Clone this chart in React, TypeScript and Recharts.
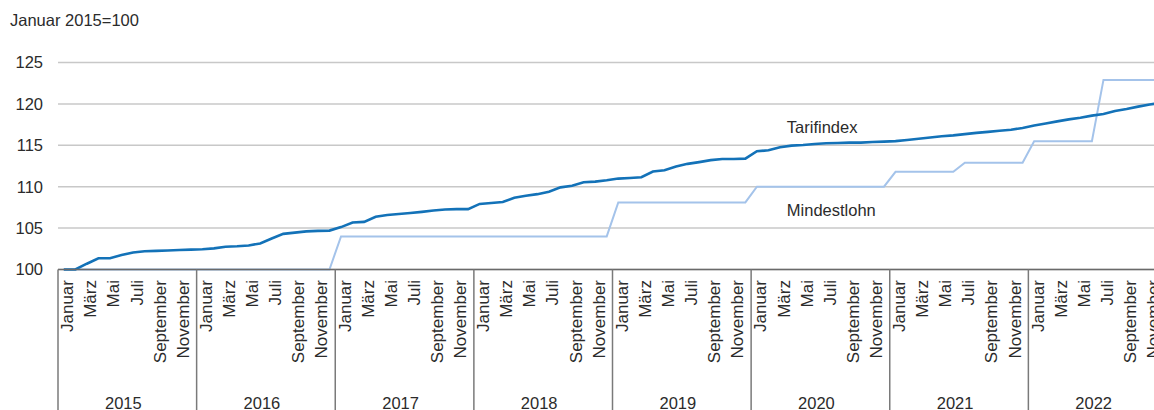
import React from "react";
import { LineChart, Line, XAxis, YAxis, CartesianGrid, ReferenceDot } from "recharts";

const title = "Januar 2015=100";
const years = [2015, 2016, 2017, 2018, 2019, 2020, 2021, 2022];
const monthLabels = ["Januar", "März", "Mai", "Juli", "September", "November"];
const yTicks = [100, 105, 110, 115, 120, 125];

const tarif2015 = [100, 100, 100.7, 101.35, 101.35, 101.75, 102.05, 102.2, 102.25, 102.3, 102.35, 102.4];
const tarif2016 = [102.45, 102.55, 102.75, 102.8, 102.9, 103.15, 103.75, 104.3, 104.45, 104.6, 104.67, 104.7];
const tarif2017 = [105.12, 105.67, 105.75, 106.37, 106.58, 106.7, 106.83, 106.96, 107.12, 107.25, 107.29, 107.29];
const tarif2018 = [107.92, 108.04, 108.15, 108.66, 108.9, 109.1, 109.39, 109.92, 110.12, 110.53, 110.61, 110.77];
const tarif2019 = [110.98, 111.06, 111.14, 111.83, 111.99, 112.44, 112.76, 112.97, 113.21, 113.35, 113.35, 113.39];
const tarif2020 = [114.28, 114.4, 114.76, 114.96, 115.04, 115.16, 115.24, 115.28, 115.32, 115.32, 115.4, 115.44];
const tarif2021 = [115.5, 115.65, 115.8, 115.95, 116.1, 116.2, 116.35, 116.5, 116.62, 116.75, 116.88, 117.1];
const tarif2022 = [117.4, 117.64, 117.89, 118.13, 118.33, 118.58, 118.78, 119.15, 119.39, 119.67, 119.92, 120.15];

const mindest2015 = [100, 100, 100, 100, 100, 100, 100, 100, 100, 100, 100, 100];
const mindest2016 = [100, 100, 100, 100, 100, 100, 100, 100, 100, 100, 100, 100];
const mindest2017 = [104, 104, 104, 104, 104, 104, 104, 104, 104, 104, 104, 104];
const mindest2018 = [104, 104, 104, 104, 104, 104, 104, 104, 104, 104, 104, 104];
const mindest2019 = [108.1, 108.1, 108.1, 108.1, 108.1, 108.1, 108.1, 108.1, 108.1, 108.1, 108.1, 108.1];
const mindest2020 = [110, 110, 110, 110, 110, 110, 110, 110, 110, 110, 110, 110];
const mindest2021 = [111.8, 111.8, 111.8, 111.8, 111.8, 111.8, 112.9, 112.9, 112.9, 112.9, 112.9, 112.9];
const mindest2022 = [115.5, 115.5, 115.5, 115.5, 115.5, 115.5, 122.9, 122.9, 122.9, 122.9, 122.9, 122.9];

const tarifindex = [...tarif2015, ...tarif2016, ...tarif2017, ...tarif2018, ...tarif2019, ...tarif2020, ...tarif2021, ...tarif2022];
const mindestlohn = [...mindest2015, ...mindest2016, ...mindest2017, ...mindest2018, ...mindest2019, ...mindest2020, ...mindest2021, ...mindest2022];

const seriesLabels = [
  { name: "Tarifindex", m: 63.09, v: 117.25 },
  { name: "Mindestlohn", m: 63.09, v: 107.19 },
];

const data = tarifindex.map((t, i) => ({ m: i + 0.5, tarif: t, mindest: mindestlohn[i] }));

const xTicks: number[] = [];
years.forEach((_, k) => {
  xTicks.push(k * 12);
  monthLabels.forEach((_, j) => xTicks.push(k * 12 + j * 2 + 0.5));
  xTicks.push(k * 12 + 6);
});
xTicks.push(years.length * 12);

const FONT = '"Liberation Sans", Arial, sans-serif';
const TEXT = "#2b2b2b";

const XTick = (props: any) => {
  const { x, y, payload } = props;
  const v = payload.value as number;
  if (Number.isInteger(v) && v % 12 === 0) {
    return <line x1={x} y1={y} x2={x} y2={y + 145} stroke="#7a7a7a" strokeWidth={1.5} />;
  }
  if (Number.isInteger(v) && v % 12 === 6) {
    const yr = years[Math.floor(v / 12)];
    return (
      <text x={x - 4} y={y + 139} textAnchor="middle" fontSize={16.5} fontFamily={FONT} fill={TEXT}>
        {yr}
      </text>
    );
  }
  const idx = Math.round(v - 0.5) % 12;
  const label = monthLabels[idx / 2];
  const ax = x + 9.5;
  const ay = y + 10.5;
  return (
    <text
      x={ax}
      y={ay}
      transform={`rotate(-90, ${ax}, ${ay})`}
      textAnchor="end"
      fontSize={17}
      fontFamily={FONT}
      fill={TEXT}
    >
      {label}
    </text>
  );
};

export default function App() {
  return (
    <div
      style={{
        position: "fixed",
        left: 0,
        top: 0,
        width: 1154,
        height: 410,
        overflow: "hidden",
        background: "#fff",
      }}
    >
      <div
        style={{
          position: "absolute",
          left: 10,
          top: 12,
          fontSize: 16.5,
          lineHeight: "16.5px",
          fontFamily: FONT,
          color: TEXT,
          whiteSpace: "nowrap",
        }}
      >
        {title}
      </div>
      <div style={{ position: "absolute", left: 0, top: 0 }}>
        <LineChart
          width={1167}
          height={410}
          data={data}
          margin={{ top: 62.5, right: 0, left: 0, bottom: 0 }}
        >
          <CartesianGrid vertical={false} stroke="#c8c8c8" strokeWidth={1.5} />
          <XAxis
            dataKey="m"
            type="number"
            domain={[0, 96]}
            ticks={xTicks}
            interval={0}
            height={140.5}
            tickLine={false}
            tickSize={0}
            tickMargin={0}
            axisLine={{ stroke: "#6a6a6a", strokeWidth: 1.5 }}
            tick={<XTick />}
          />
          <YAxis
            type="number"
            domain={[100, 125]}
            ticks={yTicks}
            width={58}
            axisLine={false}
            tickLine={false}
            tickSize={0}
            tickMargin={15}
            tick={{ fontSize: 16.5, fontFamily: FONT, fill: TEXT }}
          />
          <Line
            type="linear"
            dataKey="mindest"
            stroke="#a4c3ea"
            strokeWidth={2}
            dot={false}
            activeDot={false}
            isAnimationActive={false}
          />
          <Line
            type="linear"
            dataKey="tarif"
            stroke="#1372b8"
            strokeWidth={2.6}
            dot={false}
            activeDot={false}
            isAnimationActive={false}
          />
          {seriesLabels.map((s) => (
            <ReferenceDot
              key={s.name}
              x={s.m}
              y={s.v}
              r={0}
              fill="none"
              stroke="none"
              label={{
                value: s.name,
                position: "right",
                offset: 0,
                fontSize: 16.5,
                fontFamily: FONT,
                fill: TEXT,
              }}
            />
          ))}
        </LineChart>
      </div>
    </div>
  );
}
